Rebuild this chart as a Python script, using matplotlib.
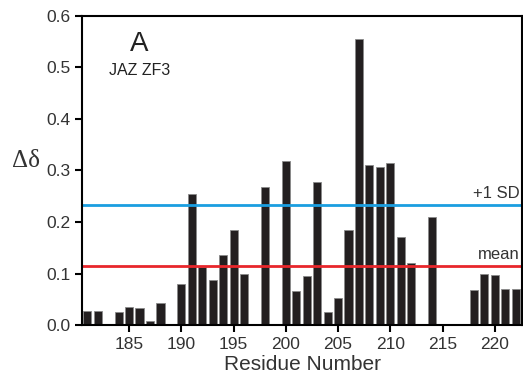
import matplotlib.pyplot as plt
import numpy as np

plt.rcParams['font.family'] = ['Liberation Sans', 'DejaVu Sans']

# chemical shift perturbation per residue
residues = np.arange(181, 223)
delta = [0.028, 0.028, 0.0, 0.025, 0.036, 0.034, 0.008, 0.043, 0.0, 0.079,
         0.254, 0.113, 0.087, 0.136, 0.185, 0.100, 0.0, 0.267, 0.0, 0.318,
         0.067, 0.096, 0.277, 0.026, 0.052, 0.184, 0.555, 0.310, 0.307, 0.315,
         0.170, 0.121, 0.0, 0.209, 0.0, 0.0, 0.0, 0.069, 0.099, 0.097,
         0.070, 0.070]
mean_val = 0.115
sd_val = 0.233
xticks = [185, 190, 195, 200, 205, 210, 215, 220]

fig = plt.figure(figsize=(5.23, 3.78), dpi=100)
ax = fig.add_axes([0.157, 0.140, 0.841, 0.818])

ax.bar(residues, delta, width=0.78, color='#231f20', edgecolor='#8a8a8a', linewidth=0.6)
ax.axhline(sd_val, color='#1a9ee0', lw=2)
ax.axhline(mean_val, color='#e8262b', lw=2)

ax.text(222.4, sd_val + 0.008, '+1 SD', ha='right', va='bottom', fontsize=12, color='#333333')
ax.text(222.4, mean_val + 0.008, 'mean', ha='right', va='bottom', fontsize=12, color='#333333')
ax.text(186.0, 0.545, 'A', ha='center', va='center', fontsize=20, color='#222222')
ax.text(186.0, 0.494, 'JAZ ZF3', ha='center', va='center', fontsize=11.5, color='#222222')

ax.set_xlim(180.5, 222.6)
ax.set_ylim(0, 0.6)
ax.set_xticks(xticks)
ax.set_yticks(np.arange(0, 0.61, 0.1))
ax.set_yticklabels(['%.1f' % v for v in np.arange(0, 0.61, 0.1)])
ax.tick_params(axis='both', direction='out', length=5, width=1.5, labelsize=12.5,
               labelcolor='#333333')
for s in ax.spines.values():
    s.set_linewidth(1.5)

ax.set_xlabel('Residue Number', fontsize=15, labelpad=2, color='#333333')
ax.set_ylabel('Δδ', fontsize=18, family='Liberation Serif', rotation=0,
              va='center', ha='center', color='#333333')
ax.yaxis.set_label_coords(-0.128, 0.53)

fig.savefig('out.png', dpi=100)
